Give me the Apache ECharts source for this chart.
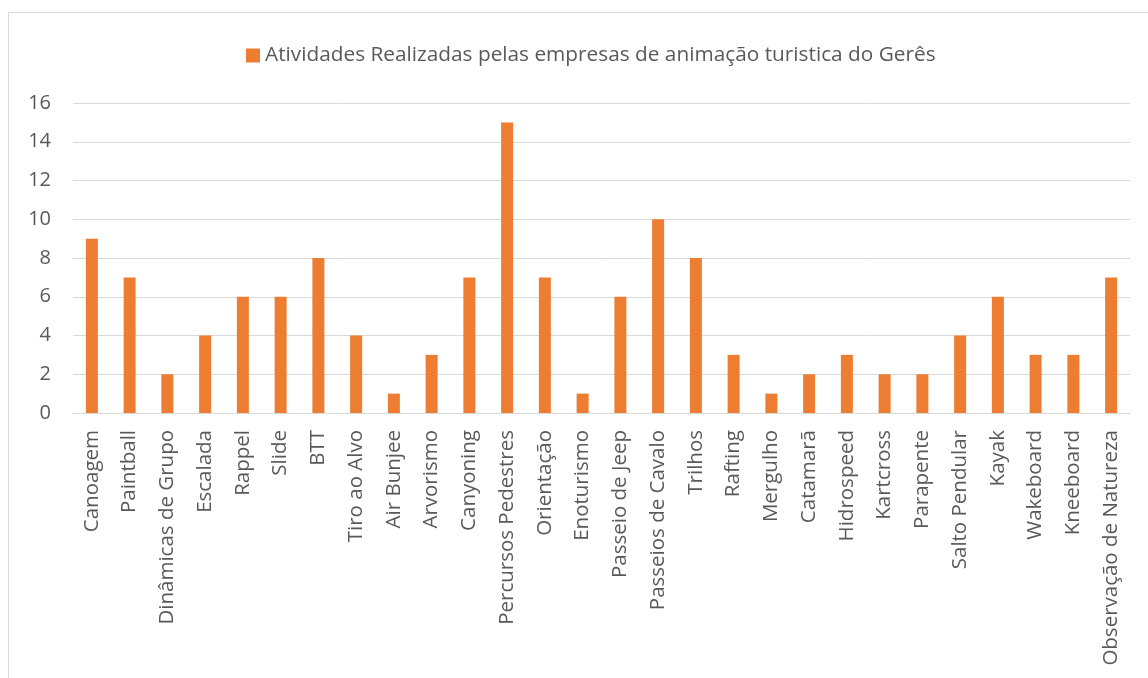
<!DOCTYPE html>
<html>
<head>
<meta charset="utf-8">
<script src="https://cdn.jsdelivr.net/npm/echarts@6/dist/echarts.min.js"></script>
<style>
  html, body { margin: 0; padding: 0; background: #fff; }
  #chart { width: 1148px; height: 678px; }
</style>
</head>
<body>
<div id="chart"></div>
<script>
// categorias (atividades)
const categories = [
  'Canoagem', 'Paintball', 'Dinâmicas de Grupo', 'Escalada', 'Rappel', 'Slide', 'BTT',
  'Tiro ao Alvo', 'Air Bunjee', 'Arvorismo', 'Canyoning', 'Percursos Pedestres', 'Orientação',
  'Enoturismo', 'Passeio de Jeep', 'Passeios de Cavalo', 'Trilhos', 'Rafting', 'Mergulho',
  'Catamarã', 'Hidrospeed', 'Kartcross', 'Parapente', 'Salto Pendular', 'Kayak', 'Wakeboard',
  'Kneeboard', 'Observação de Natureza'
];
const values = [9, 7, 2, 4, 6, 6, 8, 4, 1, 3, 7, 15, 7, 1, 6, 10, 8, 3, 1, 2, 3, 2, 2, 4, 6, 3, 3, 7];
const seriesName = 'Atividades Realizadas pelas empresas de animação turistica do Gerês';
const yTicks = [0, 2, 4, 6, 8, 10, 12, 14, 16];

const font = '"Open Sans", "Noto Sans", sans-serif';
const textColor = '#595959';

const chart = echarts.init(document.getElementById('chart'));
chart.setOption({
  animation: false,
  textStyle: { fontFamily: font },
  graphic: [{
    type: 'rect',
    shape: { x: 8.5, y: 12.5, width: 1200, height: 700 },
    style: { fill: 'none', stroke: '#d9d9d9', lineWidth: 1 },
    silent: true
  }],
  legend: {
    top: 40,
    left: 241,
    itemWidth: 14,
    itemHeight: 14,
    itemGap: 6,
    icon: 'rect',
    textStyle: { color: textColor, fontSize: 20.8, fontFamily: font }
  },
  grid: { left: 73, right: 18, top: 103, bottom: 265 },
  xAxis: {
    type: 'category',
    data: categories,
    axisLine: { lineStyle: { color: '#d9d9d9', width: 1 } },
    axisTick: { show: false },
    axisLabel: {
      rotate: 90,
      interval: 0,
      color: textColor,
      fontSize: 20.5,
      fontFamily: font,
      margin: 17
    }
  },
  yAxis: {
    type: 'value',
    min: yTicks[0],
    max: yTicks[yTicks.length - 1],
    interval: 2,
    axisLine: { show: false },
    axisTick: { show: false },
    splitLine: { lineStyle: { color: '#d9d9d9', width: 1 } },
    axisLabel: { color: textColor, fontSize: 20, fontFamily: font, margin: 22 }
  },
  series: [{
    name: seriesName,
    type: 'bar',
    data: values,
    barWidth: 12,
    itemStyle: { color: '#ED7D31' }
  }]
});
</script>
</body>
</html>
